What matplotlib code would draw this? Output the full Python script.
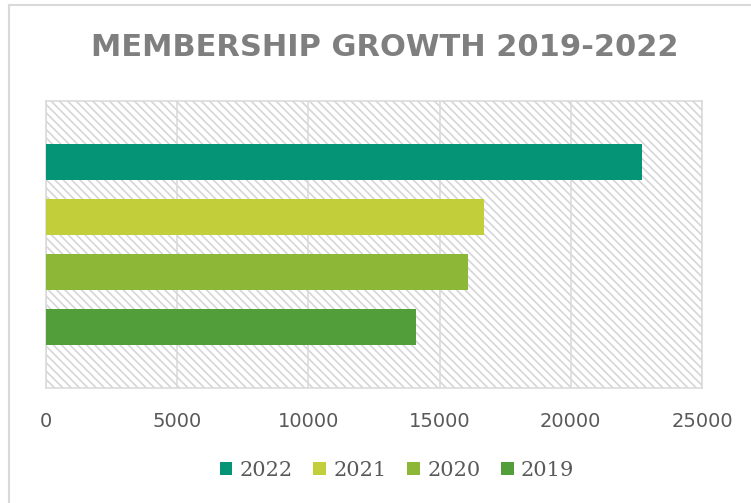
import matplotlib.pyplot as plt
from matplotlib.lines import Line2D

# values
years = ["2019", "2020", "2021", "2022"]
members = [14100, 16100, 16700, 22700]
bar_colors = ["#529e3b", "#8db837", "#c3cf3a", "#059476"]
x_ticks = [0, 5000, 10000, 15000, 20000, 25000]

GRID = "#d9d9d9"
TEXT = "#595959"

plt.rcParams["hatch.color"] = "#d6d6d6"
plt.rcParams["hatch.linewidth"] = 1.2

W, H = 751, 503
fig = plt.figure(figsize=(W / 100, H / 100), dpi=100)
ax = fig.add_axes([46 / W, 1 - 388 / H, (702 - 46) / W, (388 - 101) / H])

# plot area background: light diagonal hatch
ax.patch.set_facecolor("white")
ax.patch.set_edgecolor("#d6d6d6")
ax.patch.set_hatch("\\\\\\\\")
ax.patch.set_linewidth(0)

for i, (yr, val, col) in enumerate(zip(years, members, bar_colors)):
    ax.barh(i, val, height=0.64, color=col, label=yr, zorder=3)

ax.set_xlim(0, 25000)
ax.set_ylim(-1.11, 4.11)
ax.set_xticks(x_ticks)
ax.set_xticklabels([str(t) for t in x_ticks])
ax.set_yticks([])
ax.tick_params(axis="x", length=0, pad=17, labelsize=14, labelcolor=TEXT)
ax.grid(axis="x", color=GRID, linewidth=1.1, zorder=1)
ax.set_axisbelow(True)
for sp in ax.spines.values():
    sp.set_color(GRID)
    sp.set_linewidth(1.1)

fig.text(385 / W, 1 - 47 / H, "MEMBERSHIP GROWTH 2019-2022", ha="center", va="center",
         fontsize=22, fontweight="bold", color="#7f7f7f", family="DejaVu Sans")

handles, labels = ax.get_legend_handles_labels()
fig.legend(handles[::-1], labels[::-1], loc="center", bbox_to_anchor=(397 / W, 1 - 470 / H),
           ncol=4, frameon=False, handlelength=0.6, handleheight=0.6, handletextpad=0.35,
           columnspacing=1.0, prop={"family": "DejaVu Serif", "size": 15}, labelcolor=TEXT)

# outer chart border (cut off on the right and bottom in the reference)
fig.add_artist(Line2D([9 / W, 9 / W], [0, 1 - 5 / H], color=GRID, linewidth=1.5))
fig.add_artist(Line2D([9 / W, 1], [1 - 5 / H, 1 - 5 / H], color=GRID, linewidth=1.5))

fig.savefig("out.png", dpi=100)
